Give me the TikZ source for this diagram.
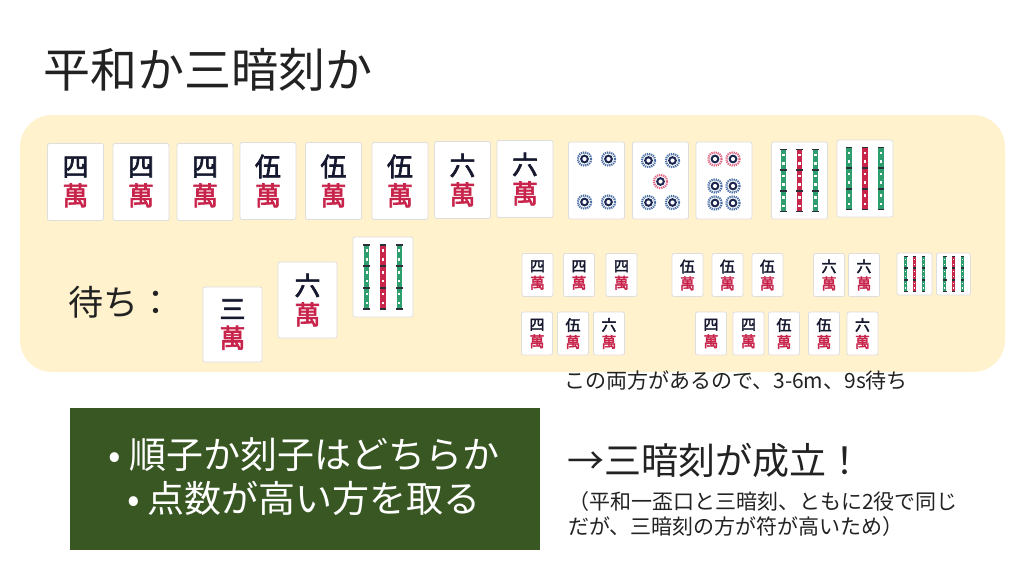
\documentclass[tikz,border=0pt]{standalone}
\usepackage{fontspec}
\setmainfont{Noto Sans CJK JP}
\newfontfamily\jp{Noto Sans CJK JP}
\newfontfamily\tilefont{Noto Sans CJK JP}[FakeBold=2.5]
\definecolor{cream}{HTML}{FFF2CC}
\definecolor{tileedge}{HTML}{DEDEDE}
\definecolor{numnavy}{HTML}{15182E}
\definecolor{manred}{HTML}{C8234B}
\definecolor{pinnavy}{HTML}{1A2550}
\definecolor{pinblue}{HTML}{4A6FA5}
\definecolor{pinpink}{HTML}{E06585}
\definecolor{sougreen}{HTML}{2E9E6E}
\definecolor{soured}{HTML}{C8264A}
\definecolor{capcol}{HTML}{2A2F3A}
\definecolor{boxgreen}{HTML}{385723}
\definecolor{ink}{HTML}{222222}
\tikzset{
  tileface/.style={draw=tileedge, fill=white, rounded corners=2pt, line width=0.8pt, inner sep=0pt, align=center},
  bigtile/.style={tileface, minimum width=56pt, minimum height=77pt, font=\tilefont\fontsize{26}{29}\selectfont},
  smalltile/.style={tileface, minimum width=31pt, minimum height=43pt, font=\tilefont\fontsize{15}{17}\selectfont},
  plaintext/.style={inner sep=0pt, text=ink},
}
\newcommand\mancontent[1]{\textcolor{numnavy}{#1}\\\textcolor{manred}{萬}}
\newcommand\pindot[3]{%
  \draw[#3, line width=2.2pt, dash pattern=on 1.2pt off 0.9pt] (#1,#2) circle[radius=6.6];
  \fill[pinnavy] (#1,#2) circle[radius=4.4];
  \fill[white] (#1,#2) circle[radius=2.1];
}
\newcommand\bamboostick[2]{%
  \foreach \j in {0,1,2} {
    \pgfmathsetmacro\yy{-32+\j*21.33}
    \fill[#2] (#1-2.6,\yy+1.2) rectangle (#1+2.6,\yy+20.1);
    \fill[capcol] (#1-3.3,\yy) rectangle (#1+3.3,\yy+1.2);
    \fill[capcol] (#1-3.3,\yy+20.1) rectangle (#1+3.3,\yy+21.3);
    \fill[white] (#1-1.1,\yy+5) rectangle (#1+1.1,\yy+7.4);
    \fill[white] (#1-1.1,\yy+13.6) rectangle (#1+1.1,\yy+16);
  }%
}
\newcommand\souface[2]{%
  \begin{scope}[shift={(#1.center)}, scale=#2]
    \bamboostick{-16}{sougreen}\bamboostick{0}{soured}\bamboostick{16}{sougreen}
  \end{scope}%
}
\begin{document}
\begin{tikzpicture}[x=1pt,y=-1pt]
\useasboundingbox (0,0) rectangle (1024,576);
\fill[white] (0,0) rectangle (1024,576);
% title
\node[plaintext, anchor=west, font=\fontsize{47}{50}\selectfont] (title) at (43,70) {平和か三暗刻か};
% cream panel
\fill[cream, rounded corners=32pt] (20,115) rectangle (1005,372);
% top row man tiles
\node[bigtile] (m1) at (75.5,182) {\mancontent{四}};
\node[bigtile] (m2) at (141,182) {\mancontent{四}};
\node[bigtile] (m3) at (205,182) {\mancontent{四}};
\node[bigtile] (m4) at (268,181) {\mancontent{伍}};
\node[bigtile] (m5) at (333.5,181) {\mancontent{伍}};
\node[bigtile] (m6) at (400,181) {\mancontent{伍}};
\node[bigtile] (m7) at (462.5,180) {\mancontent{六}};
\node[bigtile] (m8) at (525,179) {\mancontent{六}};
% pin tiles
\node[bigtile] (p4) at (596.5,180.5) {};
\node[bigtile] (p5) at (660.5,180.5) {};
\node[bigtile] (p6) at (724,180.5) {};
\begin{scope}[shift={(p4.center)}]
  \pindot{-12}{-21.5}{pinblue}\pindot{12}{-21.5}{pinblue}
  \pindot{-12}{21.5}{pinblue}\pindot{12}{21.5}{pinblue}
\end{scope}
\begin{scope}[shift={(p5.center)}]
  \pindot{-12}{-20}{pinblue}\pindot{12}{-20}{pinblue}
  \pindot{0}{1}{pinpink}
  \pindot{-12}{22}{pinblue}\pindot{12}{22}{pinblue}
\end{scope}
\begin{scope}[shift={(p6.center)}]
  \pindot{-9}{-21.5}{pinpink}\pindot{9}{-21.5}{pinpink}
  \pindot{-9}{5.5}{pinblue}\pindot{9}{5.5}{pinblue}
  \pindot{-9}{22.5}{pinblue}\pindot{9}{22.5}{pinblue}
\end{scope}
% sou tiles
\node[bigtile] (s1) at (799.5,180.5) {};
\node[bigtile] (s2) at (865,178.5) {};
\souface{s1}{1}\souface{s2}{1}
% waits
\node[plaintext, anchor=west, font=\fontsize{35}{38}\selectfont] (wait) at (68,302) {待ち：};
\node[bigtile, minimum width=59pt, minimum height=75pt] (w1) at (232.5,324.5) {\mancontent{三}};
\node[bigtile, minimum width=59pt, minimum height=76pt] (w2) at (307.5,300) {\mancontent{六}};
\node[bigtile, minimum width=60pt, minimum height=80pt] (w3) at (383,277) {};
\souface{w3}{1.02}
% small tiles row a
\node[smalltile] (a1) at (537.5,275) {\mancontent{四}};
\node[smalltile] (a2) at (579,275) {\mancontent{四}};
\node[smalltile] (a3) at (621.5,275) {\mancontent{四}};
\node[smalltile] (a4) at (687.5,275) {\mancontent{伍}};
\node[smalltile] (a5) at (727.5,275) {\mancontent{伍}};
\node[smalltile] (a6) at (767.5,275) {\mancontent{伍}};
\node[smalltile] (a7) at (829,275) {\mancontent{六}};
\node[smalltile] (a8) at (864,275) {\mancontent{六}};
\node[smalltile, minimum width=35pt, minimum height=42pt] (a9) at (914.5,274) {};
\node[smalltile, minimum width=34pt, minimum height=42pt] (a10) at (953.5,274) {};
\souface{a9}{0.55}\souface{a10}{0.55}
% small tiles row b
\node[smalltile] (b1) at (537,333.5) {\mancontent{四}};
\node[smalltile] (b2) at (573,333.5) {\mancontent{伍}};
\node[smalltile] (b3) at (609,333.5) {\mancontent{六}};
\node[smalltile] (b4) at (711,333.5) {\mancontent{四}};
\node[smalltile] (b5) at (748.5,333.5) {\mancontent{四}};
\node[smalltile] (b6) at (784,333.5) {\mancontent{伍}};
\node[smalltile] (b7) at (824,333.5) {\mancontent{伍}};
\node[smalltile] (b8) at (862.5,333.5) {\mancontent{六}};
% caption
\node[plaintext, anchor=west, font=\fontsize{21}{24}\selectfont] (cap) at (564,380) {この両方があるので、3-6m、9s待ち};
% green box
\node[fill=boxgreen, minimum width=470pt, minimum height=142pt, inner sep=0pt] (box) at (305,479) {};
\node[inner sep=0pt, text=white, font=\fontsize{37}{40}\selectfont] (l1) at (304,455) {•\ 順子か刻子はどちらか};
\node[inner sep=0pt, text=white, font=\fontsize{37}{40}\selectfont] (l2) at (304,498) {•\ 点数が高い方を取る};
% result
\node[plaintext, anchor=west, font=\fontsize{37}{40}\selectfont] (res) at (567,460) {→三暗刻が成立！};
\node[plaintext, anchor=west, font=\fontsize{21}{25}\selectfont] (n1) at (568,502) {（平和一盃口と三暗刻、ともに2役で同じ};
\node[plaintext, anchor=west, font=\fontsize{21}{25}\selectfont] (n2) at (568,527) {だが、三暗刻の方が符が高いため）};
\end{tikzpicture}
\end{document}
